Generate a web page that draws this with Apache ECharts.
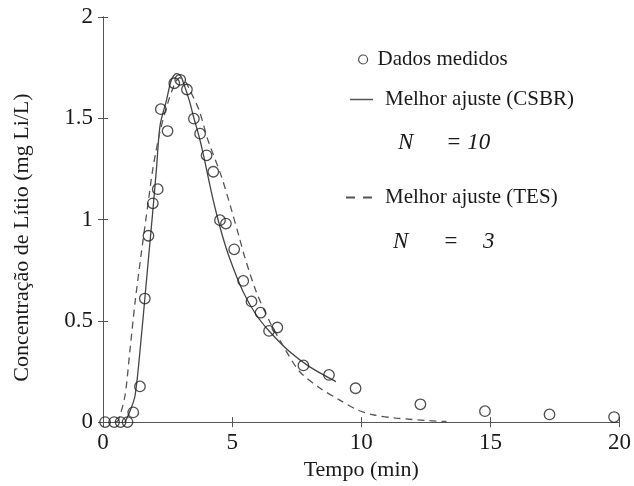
<!DOCTYPE html>
<html>
<head>
<meta charset="utf-8">
<script src="https://cdn.jsdelivr.net/npm/echarts@6/dist/echarts.min.js"></script>
<style>
  html, body { margin: 0; padding: 0; background: #fff; }
  #chart { width: 634px; height: 486px; }
</style>
</head>
<body>
<div id="chart"></div>
<script>
// measured points (tempo, concentração)
const dadosX = [0.08, 0.43, 0.68, 0.95, 1.17, 1.43, 1.62, 1.76, 1.93, 2.12, 2.24, 2.50, 2.76, 2.99, 3.25, 3.52, 3.76, 4.01, 4.27, 4.53, 4.76, 5.08, 5.43, 5.75, 6.10, 6.43, 6.75, 7.76, 8.75, 9.78, 12.29, 14.79, 17.29, 19.79]
const dadosY = [0, 0, 0, 0, 0.048, 0.176, 0.61, 0.92, 1.08, 1.15, 1.545, 1.437, 1.673, 1.69, 1.642, 1.498, 1.424, 1.317, 1.236, 0.997, 0.98, 0.853, 0.697, 0.596, 0.54, 0.45, 0.467, 0.28, 0.233, 0.167, 0.088, 0.054, 0.038, 0.025]

// best fit CSBR (solid)
const csbrX = [0.85, 1.0, 1.24, 1.49, 1.62, 1.77, 1.92, 2.07, 2.21, 2.46, 2.65, 2.84, 3.0, 3.13, 3.36, 3.5, 3.72, 3.87, 4.26, 4.58, 4.9, 5.42, 5.93, 6.45, 7.22, 7.99, 9.02]
const csbrY = [0, 0.04, 0.13, 0.43, 0.61, 0.82, 1.03, 1.25, 1.465, 1.59, 1.69, 1.72, 1.71, 1.67, 1.58, 1.51, 1.41, 1.33, 1.10, 0.94, 0.81, 0.645, 0.53, 0.447, 0.348, 0.274, 0.20]

// best fit TES (dashed)
const tesX = [0.5, 0.6, 0.85, 1.04, 1.24, 1.49, 1.75, 1.93, 2.2, 2.52, 2.78, 2.97, 3.2, 3.36, 3.72, 4.07, 4.58, 4.97, 5.29, 5.5, 5.93, 6.45, 6.96, 7.61, 8.38, 9.15, 9.86, 10.5, 11.34, 12.63, 13.3]
const tesY = [0, 0.01, 0.13, 0.35, 0.59, 0.84, 1.085, 1.25, 1.43, 1.58, 1.67, 1.70, 1.68, 1.64, 1.54, 1.39, 1.215, 1.05, 0.906, 0.81, 0.645, 0.497, 0.38, 0.25, 0.17, 0.11, 0.06, 0.035, 0.02, 0.007, 0.003]

const SERIE_NAMES = ['Dados medidos', 'Melhor ajuste (CSBR)', 'Melhor ajuste (TES)']

const pairs = (xs, ys) => xs.map((x, i) => [x, ys[i]])

const FONT = 'Liberation Serif'
const AXIS_COLOR = '#555'
const TEXT_COLOR = '#1a1a1a'

const chart = echarts.init(document.getElementById('chart'), null, { renderer: 'canvas' })

const frameAxis = {
  axisLine: { show: true, lineStyle: { color: AXIS_COLOR, width: 1 } },
  axisTick: { show: true, inside: true, length: 5, lineStyle: { color: AXIS_COLOR } },
  splitLine: { show: false },
}

const legendText = pad => ({
  color: TEXT_COLOR, fontFamily: FONT, fontSize: 21, padding: [0, 0, 0, pad],
})

const nText = (left, top, text) => ({
  type: 'text', left, top,
  style: { text, fill: TEXT_COLOR, fontFamily: FONT, fontStyle: 'italic', fontSize: 23 },
})

const option = {
  backgroundColor: '#fff',
  animation: false,
  textStyle: { fontFamily: FONT },
  grid: { left: 103, right: 14, top: 17, bottom: 62 },
  xAxis: [
    {
      type: 'value', min: 0, max: 20, interval: 5, position: 'bottom',
      name: 'Tempo (min)', nameLocation: 'middle', nameGap: 33,
      nameTextStyle: { color: TEXT_COLOR, fontFamily: FONT, fontSize: 22 },
      axisLabel: { color: TEXT_COLOR, fontFamily: FONT, fontSize: 23, margin: 9 },
      ...frameAxis,
    },
    { type: 'value', min: 0, max: 20, interval: 5, position: 'top', axisLabel: { show: false }, ...frameAxis },
  ],
  yAxis: [
    {
      type: 'value', min: 0, max: 2, interval: 0.5, position: 'left',
      name: 'Concentração de Lítio (mg Li/L)', nameLocation: 'middle', nameGap: 70, nameRotate: 90,
      nameTextStyle: { color: TEXT_COLOR, fontFamily: FONT, fontSize: 22, padding: [0, 36, 0, 0] },
      axisLabel: { color: TEXT_COLOR, fontFamily: FONT, fontSize: 23, margin: 10 },
      ...frameAxis,
    },
    { type: 'value', min: 0, max: 2, interval: 0.5, position: 'right', axisLabel: { show: false }, ...frameAxis },
  ],
  legend: [
    {
      data: [SERIE_NAMES[0]], left: 358, top: 49, padding: 0,
      icon: 'circle', itemWidth: 9, itemHeight: 9,
      itemStyle: { color: '#fff', borderColor: '#222', borderWidth: 1.2 },
      textStyle: legendText(5),
    },
    {
      data: [SERIE_NAMES[1]], left: 350, top: 89, padding: 0,
      icon: 'rect', itemWidth: 23, itemHeight: 1.5,
      itemStyle: { color: '#555' },
      textStyle: legendText(7),
    },
    {
      data: [SERIE_NAMES[2]], left: 346, top: 187, padding: 0,
      icon: 'path://M0,0h9v2h-9z M17,0h9v2h-9z', itemWidth: 26, itemHeight: 2,
      itemStyle: { color: '#555' },
      textStyle: legendText(8),
    },
  ],
  graphic: [
    nText(398, 131, 'N'),
    nText(446, 131, '= 10'),
    nText(393, 230, 'N'),
    nText(443, 230, '='),
    nText(483, 230, '3'),
  ],
  series: [
    {
      name: SERIE_NAMES[0], type: 'scatter', data: pairs(dadosX, dadosY),
      symbol: 'circle', symbolSize: 10.5, clip: false, z: 3,
      itemStyle: { color: 'rgba(255,255,255,0)', borderColor: '#222', borderWidth: 1.3 },
    },
    {
      name: SERIE_NAMES[1], type: 'line', data: pairs(csbrX, csbrY),
      smooth: 0.3, symbol: 'none',
      lineStyle: { color: '#444', width: 1.3 },
      itemStyle: { color: '#444' },
    },
    {
      name: SERIE_NAMES[2], type: 'line', data: pairs(tesX, tesY),
      smooth: 0.3, symbol: 'none',
      lineStyle: { color: '#555', width: 1.3, type: [7, 5] },
      itemStyle: { color: '#555' },
    },
  ],
}

chart.setOption(option)
</script>
</body>
</html>
